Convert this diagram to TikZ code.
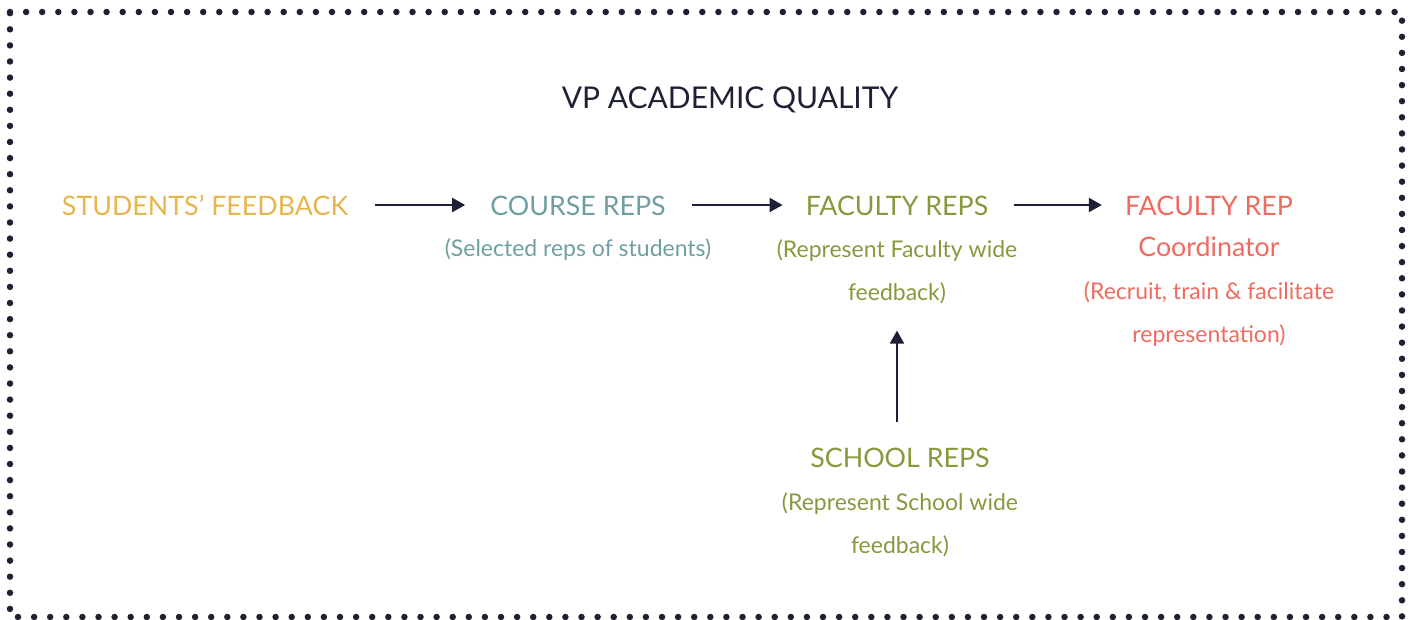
\documentclass[tikz,border=0pt]{standalone}
\usepackage{fontspec}
\setmainfont{Lato}
\usetikzlibrary{arrows.meta}
\definecolor{navy}{HTML}{1E2136}
\definecolor{gold}{HTML}{E6B64C}
\definecolor{teal}{HTML}{6F9FA0}
\definecolor{olive}{HTML}{88993D}
\definecolor{coral}{HTML}{EE6B5F}
\tikzset{
  head/.style={inner sep=0pt, anchor=base, font=\fontsize{26.8}{30}\selectfont},
  sub/.style={inner sep=0pt, anchor=base, align=center, font=\fontsize{23}{43}\selectfont},
  flow/.style={draw=navy, line width=2pt, -{Triangle[length=13pt,width=14pt]}},
}
\begin{document}
\begin{tikzpicture}[x=1pt,y=-1pt]
\useasboundingbox (0,0) rectangle (1413,620);
% dotted frame
\draw[navy, line width=6.5pt, line cap=round, dash pattern=on 0pt off 16.1pt]
  (10,12) -- (1402,12) -- (1402,617) -- (10,617) -- cycle;

\node[head, navy, font=\fontsize{30}{34}\selectfont] (title) at (730,109) {VP ACADEMIC QUALITY};

% the base anchor of a two-line node sits on its last line
\node[head, gold]  (stud)  at (205,216) {STUDENTS’ FEEDBACK};
\node[head, teal]  (crs)   at (578,216) {COURSE REPS};
\node[sub,  teal]  (crss)  at (578,257) {(Selected reps of students)};
\node[head, olive] (fac)   at (897,216) {FACULTY REPS};
\node[sub,  olive] (facs)  at (897,300) {(Represent Faculty wide\\feedback)};
\node[head, coral] (coord) at (1209,216) {FACULTY REP};
\node[head, coral] (coordb) at (1209,257) {Coordinator};
\node[sub,  coral] (coords) at (1209,342) {(Recruit, train \& facilitate\\representation)};
\node[head, olive] (sch)   at (900,467) {SCHOOL REPS};
\node[sub,  olive] (schs)  at (900,553) {(Represent School wide\\feedback)};

\draw[flow] ([xshift=27pt,yshift=11pt]stud.base east) -- ([xshift=-25pt,yshift=11pt]crs.base west);
\draw[flow] ([xshift=26pt,yshift=11pt]crs.base east) -- ([xshift=-23pt,yshift=11pt]fac.base west);
\draw[flow] ([xshift=26pt,yshift=11pt]fac.base east) -- ([xshift=-23pt,yshift=11pt]coord.base west);
\draw[flow] ([xshift=-3pt,yshift=25pt]sch.north) -- ([yshift=-27pt]facs.south);
\end{tikzpicture}
\end{document}
